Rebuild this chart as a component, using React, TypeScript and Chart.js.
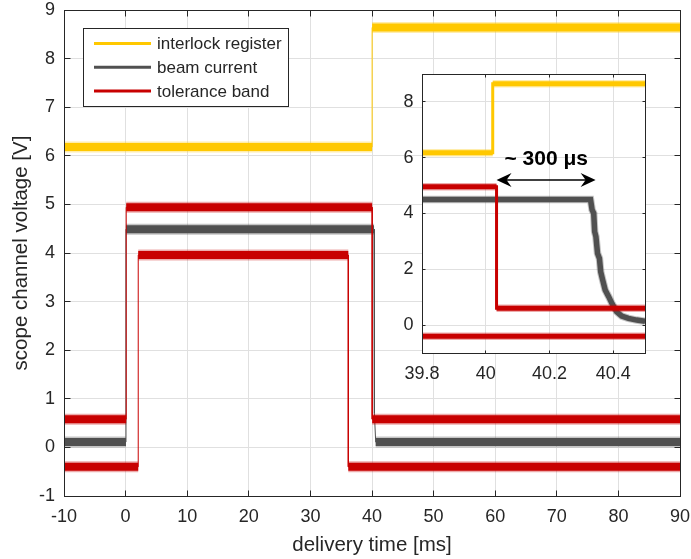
import { useEffect, useRef } from 'react';
import { Chart, registerables } from 'chart.js';

Chart.register(...registerables);

const FONT = '"Liberation Sans", Arial, Helvetica, sans-serif';
const INK = '#262626';
const GRID = '#e0e0e0';

const seriesNames = ['interlock register', 'beam current', 'tolerance band'];
const seriesRgb = ['255,200,0', '80,80,80', '200,0,0'];

// Full delivery window: time [ms], scope voltage [V]
const interlockTime = [-10, 40.02, 40.02, 90];
const interlockVolt = [6.18, 6.18, 8.64, 8.64];
const beamTime = [-10, 0.06, 0.06, 40.33, 40.36, 40.42, 40.6, 90];
const beamVolt = [0.11, 0.11, 4.49, 4.49, 2.4, 0.7, 0.11, 0.11];
const upperLimitTime = [-10, 0.1, 0.1, 40.03, 40.03, 90];
const upperLimitVolt = [0.58, 0.58, 4.94, 4.94, 0.58, 0.58];
const lowerLimitTime = [-10, 2.05, 2.05, 36.15, 36.15, 90];
const lowerLimitVolt = [-0.4, -0.4, 3.96, 3.96, -0.4, -0.4];

// Beam switch-off around 40 ms
const zoomInterlockTime = [39.8, 40.022, 40.022, 40.5];
const zoomInterlockVolt = [6.18, 6.18, 8.65, 8.65];
const zoomBeamTime = [39.8, 40.329, 40.334, 40.339, 40.342, 40.346, 40.351, 40.357, 40.361, 40.367, 40.375, 40.386, 40.396, 40.411, 40.427, 40.448, 40.474, 40.5];
const zoomBeamVolt = [4.5, 4.5, 4.13, 4.01, 3.35, 3.17, 2.57, 2.39, 1.91, 1.62, 1.26, 1.02, 0.78, 0.48, 0.32, 0.24, 0.18, 0.14];
const zoomUpperTime = [39.8, 40.034, 40.034, 40.5];
const zoomUpperVolt = [4.96, 4.96, 0.6, 0.6];
const zoomLowerTime = [39.8, 40.5];
const zoomLowerVolt = [-0.4, -0.4];

const mainTimeTicks = [-10, 0, 10, 20, 30, 40, 50, 60, 70, 80, 90];
const mainVoltTicks = [-1, 0, 1, 2, 3, 4, 5, 6, 7, 8, 9];
const zoomTimeTicks = [39.8, 40, 40.2, 40.4];
const zoomVoltTicks = [0, 2, 4, 6, 8];

const delayLabel = '~ 300 μs';

type Pt = { x: number; y: number | null };

function path(t: number[], v: number[]): Pt[] {
  return t.map((x, i) => ({ x, y: v[i] }));
}

// Keep only the segments accepted by `keep`, with gaps between separate runs
function runs(t: number[], v: number[], keep: (dt: number, dv: number) => boolean): Pt[] {
  const out: Pt[] = [];
  for (let i = 0; i < t.length - 1; i++) {
    if (!keep(t[i + 1] - t[i], v[i + 1] - v[i])) continue;
    const last = out[out.length - 1];
    if (!last || last.x !== t[i] || last.y !== v[i]) {
      if (last) out.push({ x: t[i], y: null });
      out.push({ x: t[i], y: v[i] });
    }
    out.push({ x: t[i + 1], y: v[i + 1] });
  }
  return out;
}

function traceSets(
  t: number[], v: number[], rgb: string, order: number,
  thin: number, core: number, haze: number,
  keep: (dt: number, dv: number) => boolean,
) {
  const base = { pointRadius: 0, tension: 0, fill: false, spanGaps: false, borderCapStyle: 'butt', borderJoinStyle: 'miter', clip: 0 };
  return [
    { ...base, data: path(t, v), borderColor: `rgb(${rgb})`, borderWidth: thin, order },
    { ...base, data: runs(t, v, keep), borderColor: `rgb(${rgb})`, borderWidth: core, order: order + 0.1 },
    { ...base, data: runs(t, v, keep), borderColor: `rgba(${rgb},0.33)`, borderWidth: haze, order: order + 0.2 },
  ];
}

function alignPx(p: number) {
  return Math.round(p - 0.5) + 0.5;
}

function axesBox(tickLen: number) {
  return {
    id: 'axesBox',
    afterDatasetsDraw(chart: any) {
      const { ctx, chartArea: a, scales } = chart;
      const L = alignPx(a.left), R = alignPx(a.right), T = alignPx(a.top), B = alignPx(a.bottom);
      ctx.save();
      ctx.strokeStyle = INK;
      ctx.lineWidth = 1;
      ctx.beginPath();
      for (const tk of scales.x.ticks) {
        const px = alignPx(scales.x.getPixelForValue(tk.value));
        ctx.moveTo(px, B); ctx.lineTo(px, B - tickLen);
        ctx.moveTo(px, T); ctx.lineTo(px, T + tickLen);
      }
      for (const tk of scales.y.ticks) {
        const py = alignPx(scales.y.getPixelForValue(tk.value));
        ctx.moveTo(L, py); ctx.lineTo(L + tickLen, py);
        ctx.moveTo(R, py); ctx.lineTo(R - tickLen, py);
      }
      ctx.stroke();
      ctx.strokeRect(L, T, R - L, B - T);
      ctx.restore();
    },
  };
}

const legendPlugin = {
  id: 'traceLegend',
  afterDraw(chart: any) {
    const ctx = chart.ctx;
    ctx.save();
    ctx.fillStyle = '#fff';
    ctx.fillRect(83.5, 28.5, 205, 78);
    ctx.strokeStyle = INK;
    ctx.lineWidth = 1;
    ctx.strokeRect(83.5, 28.5, 205, 78);
    ctx.font = `17px ${FONT}`;
    ctx.textAlign = 'left';
    ctx.textBaseline = 'middle';
    seriesNames.forEach((name, i) => {
      const y = 43.5 + i * 23.8;
      ctx.strokeStyle = `rgb(${seriesRgb[i]})`;
      ctx.lineWidth = 3;
      ctx.beginPath();
      ctx.moveTo(94, y);
      ctx.lineTo(151, y);
      ctx.stroke();
      ctx.fillStyle = INK;
      ctx.fillText(name, 157, y + 1);
    });
    ctx.restore();
  },
};

const whiteArea = {
  id: 'whiteArea',
  beforeDraw(chart: any) {
    const { ctx, chartArea: a } = chart;
    ctx.save();
    ctx.fillStyle = '#fff';
    ctx.fillRect(a.left, a.top, a.right - a.left, a.bottom - a.top);
    ctx.restore();
  },
};

function drawHead(ctx: CanvasRenderingContext2D, tipX: number, y: number, dir: number) {
  const len = 15, half = 7, notch = 10;
  ctx.beginPath();
  ctx.moveTo(tipX, y);
  ctx.lineTo(tipX + dir * len, y - half);
  ctx.lineTo(tipX + dir * notch, y);
  ctx.lineTo(tipX + dir * len, y + half);
  ctx.closePath();
  ctx.fill();
}

const delayArrow = {
  id: 'delayArrow',
  afterDatasetsDraw(chart: any) {
    const { ctx, scales } = chart;
    const x1 = scales.x.getPixelForValue(40.034);
    const x2 = scales.x.getPixelForValue(40.345);
    const y = scales.y.getPixelForValue(5.2);
    ctx.save();
    ctx.strokeStyle = '#000';
    ctx.fillStyle = '#000';
    ctx.lineWidth = 1.5;
    ctx.beginPath();
    ctx.moveTo(x1 + 8, y);
    ctx.lineTo(x2 - 8, y);
    ctx.stroke();
    drawHead(ctx, x1, y, 1);
    drawHead(ctx, x2, y, -1);
    ctx.font = `bold 21px ${FONT}`;
    ctx.textAlign = 'center';
    ctx.textBaseline = 'middle';
    ctx.fillText(delayLabel, scales.x.getPixelForValue(40.19), scales.y.getPixelForValue(5.93));
    ctx.restore();
  },
};

function noLabelPadding(s: any) {
  s.paddingLeft = 0;
  s.paddingRight = 0;
  s.paddingTop = 0;
  s.paddingBottom = 0;
}

function scaleDefs(opts: {
  xMin: number; xMax: number; xTicks: number[];
  yMin: number; yMax: number; yTicks: number[];
  xHeight: number; yWidth: number; yPad: number;
  xTitle?: string; yTitle?: string;
}) {
  const tickFont = { family: FONT, size: 18 };
  const titleFont = { family: FONT, size: 20.5 };
  return {
    x: {
      type: 'linear', min: opts.xMin, max: opts.xMax,
      afterBuildTicks: (s: any) => { s.ticks = opts.xTicks.map((value) => ({ value })); },
      afterFit: (s: any) => { s.height = opts.xHeight; noLabelPadding(s); },
      grid: { color: GRID, lineWidth: 1, drawTicks: false },
      border: { display: false },
      ticks: { color: INK, font: tickFont, padding: 10, maxRotation: 0, autoSkip: false, callback: (v: number) => String(v) },
      title: { display: !!opts.xTitle, text: opts.xTitle || '', color: INK, font: titleFont, padding: { top: 0, bottom: 1 } },
    },
    y: {
      type: 'linear', min: opts.yMin, max: opts.yMax,
      afterBuildTicks: (s: any) => { s.ticks = opts.yTicks.map((value) => ({ value })); },
      afterFit: (s: any) => { s.width = opts.yWidth; noLabelPadding(s); },
      grid: { color: GRID, lineWidth: 1, drawTicks: false },
      border: { display: false },
      ticks: { color: INK, font: tickFont, padding: opts.yPad, autoSkip: false, callback: (v: number) => String(v) },
      title: { display: !!opts.yTitle, text: opts.yTitle || '', color: INK, font: titleFont, padding: { top: 9.5, bottom: 0 } },
    },
  };
}

const horizontal = (_dt: number, dv: number) => dv === 0;
const notVertical = (dt: number) => dt !== 0;

export default function App() {
  const mainRef = useRef<HTMLCanvasElement>(null);
  const zoomRef = useRef<HTMLCanvasElement>(null);

  useEffect(() => {
    const main = new Chart(mainRef.current!, {
      type: 'line',
      data: {
        datasets: [
          ...traceSets(upperLimitTime, upperLimitVolt, seriesRgb[2], 1, 1, 8, 11, horizontal),
          ...traceSets(lowerLimitTime, lowerLimitVolt, seriesRgb[2], 1, 1, 8, 11, horizontal),
          ...traceSets(beamTime, beamVolt, seriesRgb[1], 2, 1, 8, 11, horizontal),
          ...traceSets(interlockTime, interlockVolt, seriesRgb[0], 3, 1, 8, 11, horizontal),
        ] as any,
      },
      options: {
        animation: false,
        responsive: false,
        devicePixelRatio: 1,
        events: [],
        layout: { padding: { top: 10, right: 11, left: 0, bottom: 0 } },
        plugins: { legend: { display: false }, tooltip: { enabled: false } },
        scales: scaleDefs({
          xMin: -10, xMax: 90, xTicks: mainTimeTicks,
          yMin: -1, yMax: 9, yTicks: mainVoltTicks,
          xHeight: 63, yWidth: 64, yPad: 9,
          xTitle: 'delivery time [ms]', yTitle: 'scope channel voltage [V]',
        }) as any,
      },
      plugins: [axesBox(6), legendPlugin],
    });

    const zoom = new Chart(zoomRef.current!, {
      type: 'line',
      data: {
        datasets: [
          ...traceSets(zoomUpperTime, zoomUpperVolt, seriesRgb[2], 1, 3, 5, 7.5, notVertical),
          ...traceSets(zoomLowerTime, zoomLowerVolt, seriesRgb[2], 1, 3, 5, 7.5, notVertical),
          ...traceSets(zoomBeamTime, zoomBeamVolt, seriesRgb[1], 2, 3, 5.5, 7.5, notVertical),
          ...traceSets(zoomInterlockTime, zoomInterlockVolt, seriesRgb[0], 3, 3, 5, 7.5, notVertical),
        ] as any,
      },
      options: {
        animation: false,
        responsive: false,
        devicePixelRatio: 1,
        events: [],
        layout: { padding: { top: 14, right: 15, left: 0, bottom: 0 } },
        plugins: { legend: { display: false }, tooltip: { enabled: false } },
        scales: scaleDefs({
          xMin: 39.8, xMax: 40.5, xTicks: zoomTimeTicks,
          yMin: -1, yMax: 9, yTicks: zoomVoltTicks,
          xHeight: 37, yWidth: 42, yPad: 8.5,
        }) as any,
      },
      plugins: [whiteArea, axesBox(3), delayArrow],
    });

    return () => {
      main.destroy();
      zoom.destroy();
    };
  }, []);

  return (
    <div style={{ position: 'absolute', left: 0, top: 0, width: 691, height: 559, background: '#fff' }}>
      <canvas ref={mainRef} width={691} height={559} style={{ position: 'absolute', left: 0, top: 0 }} />
      <canvas ref={zoomRef} width={280} height={330} style={{ position: 'absolute', left: 380, top: 60 }} />
    </div>
  );
}
